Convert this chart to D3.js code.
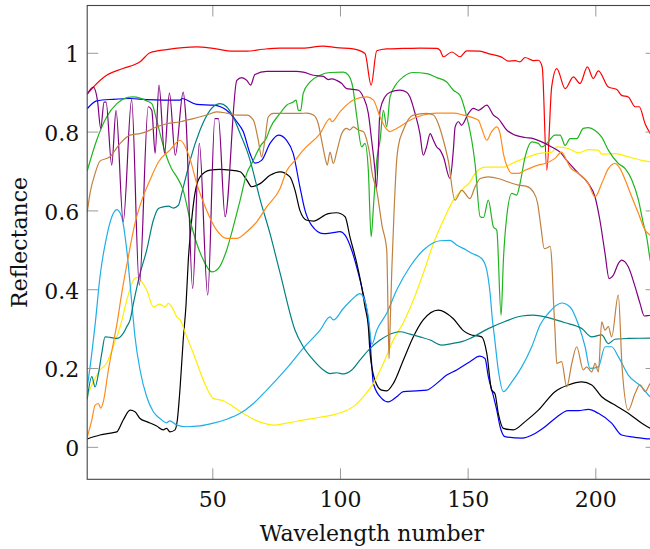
<!DOCTYPE html>
<html>
<head>
<meta charset="utf-8">
<script src="https://cdn.jsdelivr.net/npm/d3@7"></script>
<style>
  body { margin: 0; background: #fff; }
  text { font-family: "DejaVu Serif", serif; }
</style>
</head>
<body>
<div id="chart"></div>
<script>
// reflectance spectra, [wavelength number, reflectance]
var red = [[1,0.895],[3.4,0.913],[8.6,0.943],[15,0.96],[21.7,0.977],[25.6,1.0],[32.1,1.008],[43.9,1.015],[50.3,1.011],[58.1,1.004],[63.5,1.004],[69.9,1.009],[76.5,1.012],[85.5,1.012],[93.3,1.017],[98.7,1.013],[105.2,1.01],[109.8,0.998],[112.2,0.918],[114.4,1.005],[118.3,1.01],[124.7,1.011],[131.3,1.012],[137.9,1.011],[139.2,1.006],[140.5,0.99],[143.8,1.002],[147,0.99],[149.6,1.005],[154.8,1.004],[158.1,0.998],[163.3,0.989],[165.9,0.979],[168.6,0.98],[170.5,0.977],[172.5,0.988],[175.7,0.98],[177.7,0.981],[179.2,0.964],[181,0.702],[182.9,0.913],[184.9,0.96],[188.2,0.909],[191.4,0.939],[194,0.922],[196.9,0.964],[199.2,0.935],[201.2,0.954],[205.1,0.913],[208.4,0.907],[210.3,0.892],[212.9,0.888],[215.6,0.863],[217.2,0.863],[219.5,0.82],[221.5,0.795],[224,0.77]];

var blue = [[1,0.858],[4.7,0.878],[11.2,0.882],[17.8,0.884],[24.3,0.881],[30.8,0.88],[37.4,0.88],[38.1,0.884],[43.9,0.869],[50.4,0.867],[55.6,0.854],[59.6,0.825],[62.1,0.8],[64.8,0.744],[66.7,0.72],[69.3,0.727],[72.6,0.77],[75.9,0.791],[79.1,0.778],[81.7,0.744],[84.3,0.66],[86.3,0.6],[88.9,0.562],[93.5,0.541],[96.8,0.543],[100,0.546],[102,0.537],[104.6,0.499],[107.2,0.44],[109.1,0.389],[110.5,0.347],[111.5,0.296],[112.3,0.22],[113.1,0.16],[116.3,0.123],[118.9,0.114],[122.2,0.127],[124.8,0.14],[130,0.142],[134,0.144],[137.9,0.161],[141.8,0.182],[145.7,0.195],[150.9,0.216],[154.8,0.23],[156.8,0.224],[158.1,0.178],[160,0.131],[161.4,0.093],[162.7,0.051],[164.6,0.026],[171.2,0.022],[176.4,0.034],[180.3,0.051],[184.2,0.072],[189.4,0.092],[193.3,0.092],[197.3,0.095],[201.2,0.085],[206.4,0.06],[210.3,0.03],[215.6,0.024],[221.5,0.02],[224,0.02]];

var black = [[1,0.02],[6,0.03],[11.2,0.036],[12.6,0.038],[15.1,0.068],[17.8,0.093],[19.7,0.089],[21.7,0.072],[24.3,0.064],[28.2,0.053],[30.8,0.043],[32.1,0.047],[33.4,0.038],[35.4,0.043],[36.3,0.068],[37.4,0.152],[38.6,0.271],[39.7,0.36],[40.6,0.474],[41.9,0.575],[43.2,0.643],[45.2,0.685],[49.1,0.702],[53,0.704],[57,0.702],[60.9,0.698],[63.5,0.677],[65.4,0.66],[68.7,0.668],[72.6,0.689],[76.5,0.698],[80.4,0.685],[82.4,0.651],[84.3,0.6],[87,0.575],[89.6,0.573],[95.4,0.592],[98.7,0.594],[102,0.584],[103.9,0.533],[106.6,0.465],[108.5,0.406],[109.8,0.355],[111.1,0.305],[111.8,0.237],[113.7,0.169],[116.3,0.144],[118.3,0.142],[120.9,0.161],[124.8,0.22],[128.7,0.279],[132.6,0.322],[138.5,0.347],[144.4,0.325],[148.3,0.295],[150.9,0.285],[155.5,0.279],[157.5,0.237],[159.4,0.144],[160.7,0.135],[162,0.085],[164,0.047],[167.9,0.043],[172.5,0.064],[177.7,0.093],[184.2,0.14],[189.4,0.157],[194.7,0.165],[198.6,0.157],[202.5,0.127],[207.7,0.106],[212.9,0.085],[218.2,0.06],[221.5,0.047],[224,0.04]];

var yellow = [[1,0.13],[4.1,0.174],[6,0.195],[8.6,0.212],[11.2,0.254],[13.9,0.305],[16.5,0.372],[19.1,0.423],[20.6,0.43],[22.3,0.419],[24.3,0.398],[26.9,0.355],[29.5,0.362],[31.5,0.355],[32.8,0.364],[34.1,0.355],[36.1,0.33],[37.4,0.322],[40,0.279],[42.6,0.237],[46.5,0.169],[50.4,0.123],[54.3,0.117],[58.2,0.102],[62.1,0.085],[66.1,0.07],[70,0.06],[73.9,0.055],[79.1,0.06],[85.6,0.068],[92.2,0.075],[97.4,0.081],[101.3,0.089],[105.2,0.102],[109.1,0.127],[113.1,0.161],[117,0.212],[120.9,0.271],[124.8,0.315],[128.7,0.372],[132.6,0.44],[136.6,0.516],[140.5,0.575],[144.4,0.626],[148.3,0.656],[150.9,0.672],[152.9,0.694],[156.8,0.71],[160.7,0.71],[164.6,0.71],[167.3,0.719],[173.8,0.736],[177.7,0.744],[182.9,0.748],[184.9,0.761],[189.4,0.757],[193.3,0.746],[197.3,0.754],[201.2,0.753],[202.5,0.743],[207.7,0.744],[212.9,0.736],[218.2,0.727],[221.5,0.723],[224,0.72]];

var cyan = [[1,0.15],[2.8,0.237],[4.1,0.31],[6,0.431],[8.6,0.533],[11.2,0.592],[12.6,0.602],[14.5,0.584],[16.5,0.499],[18.4,0.37],[19.7,0.28],[21.7,0.195],[24.3,0.127],[26.9,0.089],[29.5,0.072],[32.1,0.061],[33.4,0.066],[36.1,0.055],[40,0.051],[45.2,0.053],[50.4,0.06],[55.6,0.07],[60.9,0.085],[66.1,0.11],[71.3,0.144],[76.5,0.18],[79.1,0.199],[85.6,0.25],[92.2,0.296],[96.1,0.33],[97.4,0.322],[101.3,0.351],[105.2,0.377],[107.8,0.389],[109.1,0.381],[111.1,0.33],[112.5,0.26],[114.4,0.296],[118.3,0.339],[122.2,0.398],[127.4,0.457],[132.6,0.499],[136.6,0.518],[139.2,0.523],[143.1,0.524],[145.7,0.512],[149.6,0.499],[151.6,0.491],[155.5,0.478],[157.5,0.448],[158.8,0.389],[159.7,0.322],[160.5,0.279],[162,0.195],[164,0.14],[167.3,0.165],[171.2,0.203],[175.1,0.254],[178.4,0.31],[181.6,0.339],[186.8,0.365],[190.1,0.355],[193.4,0.31],[196,0.254],[197.9,0.199],[201.2,0.203],[203.8,0.254],[206.4,0.254],[209,0.229],[212.9,0.182],[218.2,0.152],[221.5,0.127],[224,0.12]];

var teal = [[1,0.12],[2.8,0.178],[4.1,0.152],[5.4,0.186],[6.7,0.237],[8,0.279],[9.9,0.278],[12.6,0.275],[15.1,0.288],[16.5,0.305],[17.8,0.322],[19.1,0.364],[21.7,0.44],[24.3,0.499],[26.9,0.575],[28.9,0.605],[30.8,0.609],[32.8,0.611],[34.7,0.606],[36.7,0.613],[38,0.643],[40,0.694],[41.3,0.727],[45.2,0.804],[49.1,0.854],[53,0.871],[55.6,0.863],[58.2,0.837],[60.9,0.795],[63.5,0.753],[64.8,0.727],[68.7,0.628],[72.6,0.541],[76.5,0.442],[82.4,0.296],[85.6,0.254],[89.6,0.22],[93.5,0.195],[96.1,0.186],[98.7,0.188],[101.3,0.185],[104.6,0.195],[107.8,0.22],[111.8,0.25],[115.7,0.271],[120.9,0.289],[123.5,0.292],[127.4,0.286],[131.3,0.279],[135.3,0.271],[139.8,0.258],[143.8,0.262],[147.7,0.267],[150.9,0.275],[158.1,0.3],[164.6,0.318],[171.2,0.332],[175.7,0.334],[180.3,0.33],[184.2,0.323],[188.2,0.315],[194.7,0.3],[198.6,0.279],[202.5,0.284],[205.1,0.262],[207.7,0.273],[212.9,0.275],[221.5,0.276],[224,0.277]];

var green = [[1,0.70],[4.7,0.778],[8.6,0.837],[12.6,0.871],[16.5,0.886],[19.1,0.888],[21.7,0.885],[24.3,0.878],[26.3,0.871],[28.2,0.829],[30.2,0.778],[32.1,0.736],[34.1,0.705],[36.1,0.685],[38.6,0.651],[41.3,0.575],[43.9,0.516],[46.5,0.474],[49.8,0.444],[52.4,0.453],[55.6,0.499],[58.2,0.558],[60.9,0.626],[63.5,0.694],[65.5,0.72],[69,0.765],[71.3,0.785],[72.6,0.808],[76.5,0.846],[79.1,0.867],[81.7,0.875],[82.8,0.88],[83.7,0.854],[84.6,0.854],[85.6,0.897],[88.3,0.926],[92.2,0.943],[96.1,0.95],[101.3,0.951],[103.3,0.943],[105,0.913],[106.6,0.837],[108.5,0.761],[109.8,0.77],[111.1,0.702],[112.2,0.533],[113.1,0.609],[114.4,0.727],[115.7,0.778],[117,0.854],[118.3,0.812],[119.6,0.888],[122.2,0.922],[124.8,0.939],[128.7,0.95],[134,0.947],[137.9,0.937],[141.8,0.926],[144.4,0.905],[147,0.892],[149,0.854],[151.6,0.778],[152.9,0.719],[154.9,0.584],[156.2,0.582],[158.1,0.626],[160.1,0.558],[161.4,0.55],[163.1,0.334],[164,0.474],[165.3,0.584],[167.3,0.643],[169.2,0.639],[170.5,0.668],[172.5,0.736],[175.1,0.774],[177.7,0.77],[179,0.761],[181,0.77],[184.2,0.791],[186.2,0.791],[188.2,0.765],[190.1,0.782],[192.7,0.782],[195.3,0.808],[197.3,0.81],[199.9,0.803],[202.5,0.786],[205.1,0.753],[209,0.719],[211.7,0.706],[214.3,0.677],[216.9,0.626],[218.8,0.567],[220.1,0.533],[221.5,0.474],[224,0.43]];

var purple = [[1,0.895],[3.4,0.913],[5,0.88],[6.3,0.808],[7.6,0.875],[8.4,0.875],[10.6,0.715],[12.3,0.854],[15.1,0.571],[18.4,0.881],[21.4,0.41],[24.9,0.863],[26.3,0.854],[27.6,0.745],[29.1,0.918],[31.3,0.745],[33.2,0.898],[35.5,0.74],[38.6,0.9],[39.7,0.83],[42.3,0.402],[44.9,0.77],[48.2,0.385],[51,0.833],[52.4,0.833],[55,0.584],[59.6,0.93],[61.5,0.937],[63.5,0.93],[65,0.918],[66.7,0.945],[71.3,0.953],[76.5,0.953],[82.9,0.953],[85.6,0.951],[89.6,0.943],[93.5,0.94],[95.4,0.932],[96.8,0.934],[98.7,0.93],[100.7,0.922],[102.6,0.909],[105.2,0.907],[107.2,0.905],[109.1,0.888],[111.1,0.846],[112.4,0.778],[113.7,0.702],[114.3,0.655],[115.7,0.854],[117.6,0.888],[119.6,0.9],[123.5,0.905],[126.1,0.9],[127.4,0.888],[129.4,0.846],[131.3,0.795],[132.6,0.74],[133.9,0.761],[135.3,0.795],[136.6,0.778],[137.9,0.761],[139.2,0.753],[140.5,0.736],[143.1,0.681],[144.4,0.753],[145.1,0.812],[146.4,0.825],[147.6,0.816],[150.3,0.846],[152.2,0.859],[154.2,0.854],[157.5,0.867],[160.1,0.842],[162,0.833],[165.3,0.804],[168.6,0.791],[172.5,0.785],[175.7,0.782],[179,0.774],[182.9,0.761],[186.2,0.748],[188.8,0.727],[193.4,0.694],[197.3,0.668],[199.9,0.634],[201.8,0.575],[203.8,0.491],[205.4,0.427],[207.1,0.436],[209,0.465],[210.3,0.474],[212.9,0.457],[215.6,0.406],[217.5,0.364],[219.2,0.332],[221.5,0.334],[224,0.335]];

var orange = [[1,0.025],[2.8,0.068],[4.1,0.106],[5.4,0.11],[6.3,0.098],[7.3,0.114],[9.3,0.195],[11.2,0.262],[12.6,0.31],[14.5,0.389],[17.1,0.482],[19.7,0.567],[22.4,0.626],[25.6,0.677],[28.9,0.723],[33.4,0.753],[37.4,0.778],[40,0.753],[41.3,0.73],[43.9,0.668],[47.8,0.6],[51.7,0.55],[55.6,0.529],[59.6,0.529],[63.5,0.546],[67.4,0.571],[71.3,0.609],[76.5,0.655],[79.1,0.7],[82.4,0.727],[85.6,0.753],[92.2,0.795],[96.1,0.833],[96.8,0.825],[100,0.85],[105.2,0.88],[110.5,0.888],[113.1,0.88],[115.7,0.837],[117.6,0.812],[119.6,0.8],[122.2,0.808],[127.4,0.829],[132.6,0.842],[137.9,0.847],[144.4,0.847],[148.3,0.842],[154.2,0.829],[155.5,0.808],[157.5,0.778],[159.4,0.8],[161.4,0.812],[162.7,0.795],[164,0.744],[165.9,0.705],[167.3,0.694],[169.9,0.694],[172.5,0.702],[177.7,0.715],[180.3,0.719],[184.2,0.732],[186.8,0.748],[188.5,0.73],[190.1,0.71],[193.4,0.694],[197.3,0.668],[199.9,0.634],[202.5,0.668],[205.1,0.706],[207.7,0.719],[209.7,0.706],[211.7,0.677],[214.3,0.634],[216.9,0.592],[219.5,0.55],[221.5,0.537],[224,0.52]];

var brown = [[1,0.595],[2.1,0.643],[4.1,0.694],[6,0.725],[9.9,0.736],[13.9,0.77],[17.8,0.791],[21.7,0.795],[24.3,0.8],[28.2,0.812],[32.1,0.82],[37.4,0.825],[42.6,0.833],[47.8,0.842],[51.7,0.85],[55.6,0.847],[59.6,0.842],[63.5,0.842],[66.1,0.829],[68,0.778],[69.3,0.736],[70.6,0.778],[71.9,0.837],[73.9,0.846],[84.3,0.846],[87,0.847],[89.6,0.842],[91.5,0.82],[92.8,0.778],[94.1,0.736],[95,0.715],[96.1,0.748],[97.4,0.719],[98.7,0.748],[100.7,0.795],[102.6,0.808],[103.9,0.804],[105.2,0.812],[107.2,0.804],[109.1,0.8],[110.5,0.778],[111.8,0.736],[112.4,0.702],[114.4,0.65],[116.5,0.56],[118.3,0.5],[118.8,0.35],[119.2,0.224],[119.6,0.3],[120.3,0.45],[121.2,0.6],[122.2,0.727],[122.8,0.761],[124.8,0.804],[128.7,0.842],[134,0.846],[136.6,0.842],[138.5,0.82],[140.5,0.778],[142.4,0.727],[145,0.626],[147.7,0.651],[150.9,0.63],[152.9,0.66],[154.9,0.681],[158.1,0.685],[162,0.681],[165.9,0.672],[169.9,0.664],[173.1,0.661],[175.7,0.647],[177.4,0.618],[178.7,0.558],[180,0.503],[181.4,0.506],[182.3,0.509],[183,0.465],[183.6,0.372],[184.2,0.296],[184.9,0.212],[186.8,0.216],[188.8,0.152],[190.8,0.212],[192.7,0.254],[195.3,0.195],[196.6,0.203],[198.6,0.19],[199.9,0.212],[201.2,0.19],[202.5,0.317],[203.8,0.296],[205.1,0.305],[206.4,0.279],[209,0.385],[210.5,0.2],[212.9,0.093],[215.6,0.136],[217.5,0.157],[219.5,0.14],[221.5,0.161],[224,0.17]];

var series = [
  {values: red, color: "#ff0000"},
  {values: blue, color: "#0000ff"},
  {values: black, color: "#000000"},
  {values: yellow, color: "#ffee00"},
  {values: cyan, color: "#1eaee8"},
  {values: teal, color: "#008080"},
  {values: green, color: "#1fb51f"},
  {values: purple, color: "#800080"},
  {values: orange, color: "#ff8a1a"},
  {values: brown, color: "#c0803f"}
];

var xTicks = [50, 100, 150, 200];
var yTicks = [0, 0.2, 0.4, 0.6, 0.8, 1];

// plot box in pixels (the right edge sits outside the 650px window)
var boxLeft = 87.2, boxRight = 656.6, boxTop = 5.5, boxBottom = 479.3;
var font = "'DejaVu Serif', serif";

var svg = d3.select("#chart")
  .append("svg")
    .attr("width", 650)
    .attr("height", 549);

var x = d3.scaleLinear().domain([1, 224]).range([boxLeft, boxRight]);
var y = d3.scaleLinear().domain([-0.0824, 1.12]).range([boxBottom, boxTop]);

svg.append("defs").append("clipPath").attr("id", "clip")
  .append("rect")
    .attr("x", boxLeft).attr("y", boxTop)
    .attr("width", boxRight - boxLeft).attr("height", boxBottom - boxTop);

var line = d3.line()
  .x(function(d) { return x(d[0]); })
  .y(function(d) { return y(d[1]); })
  .curve(d3.curveMonotoneX);

svg.append("g").attr("clip-path", "url(#clip)")
  .selectAll("path")
  .data(series)
  .enter()
  .append("path")
    .attr("d", function(d) { return line(d.values); })
    .attr("fill", "none")
    .attr("stroke", function(d) { return d.color; })
    .attr("stroke-width", 1.2)
    .attr("stroke-linejoin", "round");

// axes, ticks pointing inwards
var fmt = function(d) { return d3.format("~g")(d); };

var gx = svg.append("g").attr("transform", "translate(0," + boxBottom + ")")
  .call(d3.axisBottom(x).tickValues(xTicks).tickSize(-11).tickPadding(12).tickFormat(fmt));
var gy = svg.append("g").attr("transform", "translate(" + boxLeft + ",0)")
  .call(d3.axisLeft(y).tickValues(yTicks).tickSize(-11).tickPadding(8).tickFormat(fmt));
var gt = svg.append("g").attr("transform", "translate(0," + boxTop + ")")
  .call(d3.axisTop(x).tickValues(xTicks).tickSize(-11).tickFormat(""));
var gr = svg.append("g").attr("transform", "translate(" + boxRight + ",0)")
  .call(d3.axisRight(y).tickValues(yTicks).tickSize(-11).tickFormat(""));

[gx, gy, gt, gr].forEach(function(g) {
  g.attr("font-family", null);
  g.select(".domain").remove();
  g.selectAll(".tick line").attr("stroke", "#999").attr("stroke-width", 1);
  g.selectAll(".tick text")
    .attr("fill", "#111")
    .style("font-family", font)
    .style("font-size", "22px");
});
gy.selectAll(".tick text").attr("dy", "0.4em");

svg.append("rect")
  .attr("x", boxLeft).attr("y", boxTop)
  .attr("width", boxRight - boxLeft).attr("height", boxBottom - boxTop)
  .attr("fill", "none")
  .attr("stroke", "#444")
  .attr("stroke-width", 1.1);

svg.append("text")
  .attr("x", (boxLeft + boxRight) / 2)
  .attr("y", 541)
  .attr("text-anchor", "middle")
  .attr("fill", "#111")
  .style("font-family", font)
  .style("font-size", "22px")
  .text("Wavelength number");

svg.append("text")
  .attr("transform", "translate(27," + (boxTop + boxBottom) / 2 + ") rotate(-90)")
  .attr("text-anchor", "middle")
  .attr("fill", "#111")
  .style("font-family", font)
  .style("font-size", "22px")
  .text("Reflectance");
</script>
</body>
</html>
